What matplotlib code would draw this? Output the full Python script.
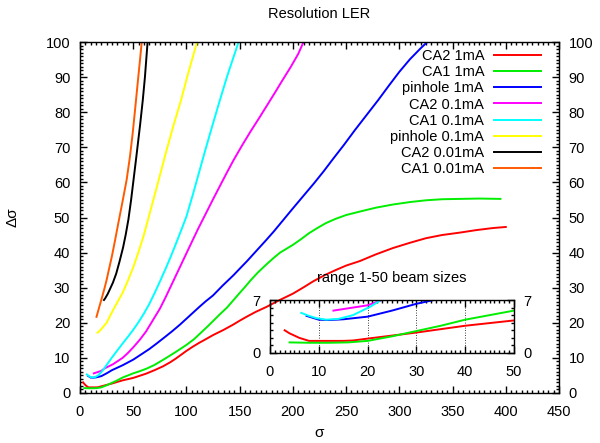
import matplotlib
matplotlib.use("Agg")
import matplotlib.pyplot as plt
from matplotlib.ticker import MultipleLocator

plt.rcParams['font.family'] = ['Liberation Sans', 'DejaVu Sans']

# ---- data ----
ca2_1mA_x = [3, 4, 5, 6, 8, 10, 12, 15, 17, 20, 25, 30, 35, 40, 45, 50, 55, 62, 70, 78, 85, 90, 95, 100,
             106, 112, 118, 125, 135, 144, 150, 157, 165, 175, 187, 200, 210, 219, 230, 240, 250, 263,
             278, 294, 310, 325, 340, 357, 372, 388, 400]
ca2_1mA_y = [3.0, 2.6, 2.3, 2.0, 1.6, 1.6, 1.6, 1.6, 1.65, 1.9, 2.3, 2.7, 3.15, 3.6, 3.95, 4.3, 4.8, 5.5,
             6.5, 7.6, 8.8, 9.8, 10.9, 12, 13.2, 14.3, 15.3, 16.5, 18, 19.5, 20.6, 21.8, 23.1, 24.5, 26.4,
             28.3, 30.1, 31.8, 33.6, 35, 36.3, 37.6, 39.5, 41.3, 42.8, 44.1, 45, 45.7, 46.4, 47, 47.3]

ca1_1mA_x = [4, 8, 12, 16, 20, 25, 30, 35, 40, 45, 50, 56, 63, 70, 80, 90, 100, 107, 113, 120, 125, 132,
             138, 144, 150, 155, 160, 167, 175, 182, 188, 194, 200, 208, 215, 223, 231, 240, 250, 263,
             278, 294, 310, 325, 340, 357, 375, 395]
ca1_1mA_y = [1.4, 1.35, 1.35, 1.4, 1.6, 2.2, 2.9, 3.6, 4.4, 5.0, 5.6, 6.2, 7.0, 8.0, 9.8, 11.7, 13.7, 15.3,
             17, 19, 20.5, 22.6, 24.3, 26.4, 28.5, 30.2, 32, 34.3, 36.6, 38.5, 40, 41.1, 42.2, 43.9, 45.5,
             47, 48.4, 49.6, 50.7, 51.7, 52.8, 53.7, 54.4, 54.9, 55.2, 55.3, 55.4, 55.3]

pin_1mA_x = [7.5, 10, 12, 15, 20, 25, 30, 35, 40, 45, 50, 57, 65, 72, 80, 87, 94, 103, 112, 118, 125, 134,
             144, 150, 157, 166, 175, 182, 188, 194, 200, 210, 220, 229, 238, 248, 258, 269, 280, 290,
             300, 310, 320, 328]
pin_1mA_y = [4.9, 4.4, 4.35, 4.45, 4.8, 5.6, 6.5, 7.2, 7.9, 8.7, 9.5, 10.9, 12.5, 14.1, 16, 17.7, 19.5, 22,
             24.5, 26.1, 27.8, 30.6, 33.5, 35.4, 37.6, 40.6, 43.6, 46, 48.2, 50.4, 52.6, 56.2, 59.8, 63.2,
             66.8, 70.7, 74.8, 79.1, 83.4, 87.5, 91.5, 95.1, 98.2, 100.5]

ca2_01mA_x = [13, 16, 20, 23, 27, 31, 35, 40, 45, 50, 56, 62, 68, 75, 80, 85, 90, 95, 100, 105, 111, 118,
              125, 132, 138, 144, 152, 160, 168, 175, 183, 190, 198, 205, 210]
ca2_01mA_y = [5.6, 5.9, 6.3, 7.0, 7.6, 8.2, 9.0, 10, 11.4, 13, 15.1, 17.5, 20.5, 24, 27, 30.2, 33.4,
              36.6, 39.8, 43, 46.8, 51, 55.2, 59.3, 62.8, 66.2, 70.4, 74.4, 78.2, 81.6, 85.5, 89, 92.9,
              96.6, 100]

ca1_01mA_x = [6.4, 8, 9.5, 11.5, 14, 17, 20.5, 23, 26, 30, 35, 40, 45, 50, 55, 60, 65, 70, 75, 81, 86, 91,
              96, 100, 106, 112, 118, 124, 131, 138, 144, 149]
ca1_01mA_y = [5.3, 4.9, 4.6, 4.4, 4.5, 5.0, 6.1, 7.1, 8.4, 10.1, 12.1, 14.1, 16, 18, 20.2, 22.6, 25.3,
              28.4, 31.7, 35.8, 39.4, 43.2, 47.1, 50.3, 56.5, 63, 69.5, 75.8, 83, 90, 95.5, 100]

pin_01mA_x = [16.5, 17.5, 20, 25, 31, 35, 40, 45, 50, 55, 60, 64, 68, 72, 77, 81, 88, 95, 102, 110]
pin_01mA_y = [17.2, 17.4, 18.2, 20, 23.6, 25.8, 28.5, 32, 35.8, 40.2, 45, 49.5, 54, 58.5, 64.2, 68.8, 76.4,
              83.5, 91.5, 100]

ca2_001mA_x = [22.5, 23.5, 26, 28, 31, 34, 37, 40.5, 43, 45.5, 48, 50, 53, 56.5, 59, 61, 63.5]
ca2_001mA_y = [26.5, 26.9, 28.2, 29.5, 31.5, 34, 37.3, 41.5, 45.2, 49.5, 55, 60, 67.5, 76.5, 83.5, 90, 100]

ca1_001mA_x = [15.5, 18, 20, 23, 25, 28, 30, 33, 36, 40, 43.8, 47, 49.5, 51.7, 54, 56.4, 58]
ca1_001mA_y = [21.7, 24.4, 26.5, 29.8, 32.2, 36.3, 39, 43.6, 48.4, 54.6, 60.7, 67.5, 74, 80.6, 87.7, 95, 100]

labels = ['CA2 1mA', 'CA1 1mA', 'pinhole 1mA', 'CA2 0.1mA', 'CA1 0.1mA',
          'pinhole 0.1mA', 'CA2 0.01mA', 'CA1 0.01mA']
colors = ['#ff0000', '#00ee00', '#0000ff', '#ff00ff', '#00ffff', '#ffff00', '#000000', '#ff5a00']
series = [(ca2_1mA_x, ca2_1mA_y), (ca1_1mA_x, ca1_1mA_y), (pin_1mA_x, pin_1mA_y),
          (ca2_01mA_x, ca2_01mA_y), (ca1_01mA_x, ca1_01mA_y), (pin_01mA_x, pin_01mA_y),
          (ca2_001mA_x, ca2_001mA_y), (ca1_001mA_x, ca1_001mA_y)]

W, H = 600, 443
fig = plt.figure(figsize=(6, 4.43), dpi=100)
ax = fig.add_axes([80 / W, 50 / H, 479 / W, 351 / H])

for (x, y), c, lab in zip(series, colors, labels):
    ax.plot(x, y, color=c, lw=1.4, label=lab, solid_joinstyle='round')

ax.set_xlim(0, 450)
ax.set_ylim(0, 100)
ax.xaxis.set_major_locator(MultipleLocator(50))
ax.xaxis.set_minor_locator(MultipleLocator(5))
ax.yaxis.set_major_locator(MultipleLocator(10))
ax.yaxis.set_minor_locator(MultipleLocator(1))
ax.tick_params(which='both', direction='in', top=True, right=True, labelright=True,
               labelsize=10.5, width=1)
ax.tick_params(which='major', length=5)
ax.tick_params(which='minor', length=2.5)
for s in ax.spines.values():
    s.set_linewidth(1.0)
ax.tick_params(axis='y', which='major', pad=7)
ax.tick_params(axis='x', which='major', pad=9)

ax.set_title('Resolution LER', fontsize=10.5, pad=17)
ax.set_xlabel('σ', fontsize=11, labelpad=5)
ax.set_ylabel('Δσ', fontsize=11, labelpad=19)

leg = ax.legend(loc='upper right', bbox_to_anchor=(541 / W, 1 - 49 / H),
                bbox_transform=fig.transFigure, frameon=False, markerfirst=False,
                fontsize=10.5, handlelength=3.2, handletextpad=0.7,
                labelspacing=0.15, borderpad=0, borderaxespad=0)
for t in leg.get_texts():
    t.set_ha('right')

# ---- inset ----
ins = fig.add_axes([270 / W, 90 / H, 244 / W, 53 / H])
ins.patch.set_alpha(0)
for (x, y), c in zip(series, colors):
    ins.plot(x, y, color=c, lw=1.4)
ins.set_xlim(0, 50)
ins.set_ylim(0, 7)
ins.set_xticks([0, 10, 20, 30, 40, 50])
ins.set_yticks([0, 7])
ins.xaxis.set_minor_locator(MultipleLocator(1))
ins.yaxis.set_minor_locator(MultipleLocator(1))
ins.tick_params(which='both', direction='in', top=True, right=True, labelright=True,
                labelsize=10.5, width=1)
ins.tick_params(which='major', length=5)
ins.tick_params(which='minor', length=2.5)
ins.tick_params(axis='y', which='major', pad=7)
ins.tick_params(axis='x', which='major', pad=9)
for s in ins.spines.values():
    s.set_linewidth(1.0)
for gx in [10, 20, 30, 40]:
    ins.axvline(gx, color='black', lw=0.6, ls=(0, (1, 2)), zorder=0)
ins.set_title('range 1-50 beam sizes', fontsize=10.5, pad=13)

fig.savefig('out.png', dpi=100)
